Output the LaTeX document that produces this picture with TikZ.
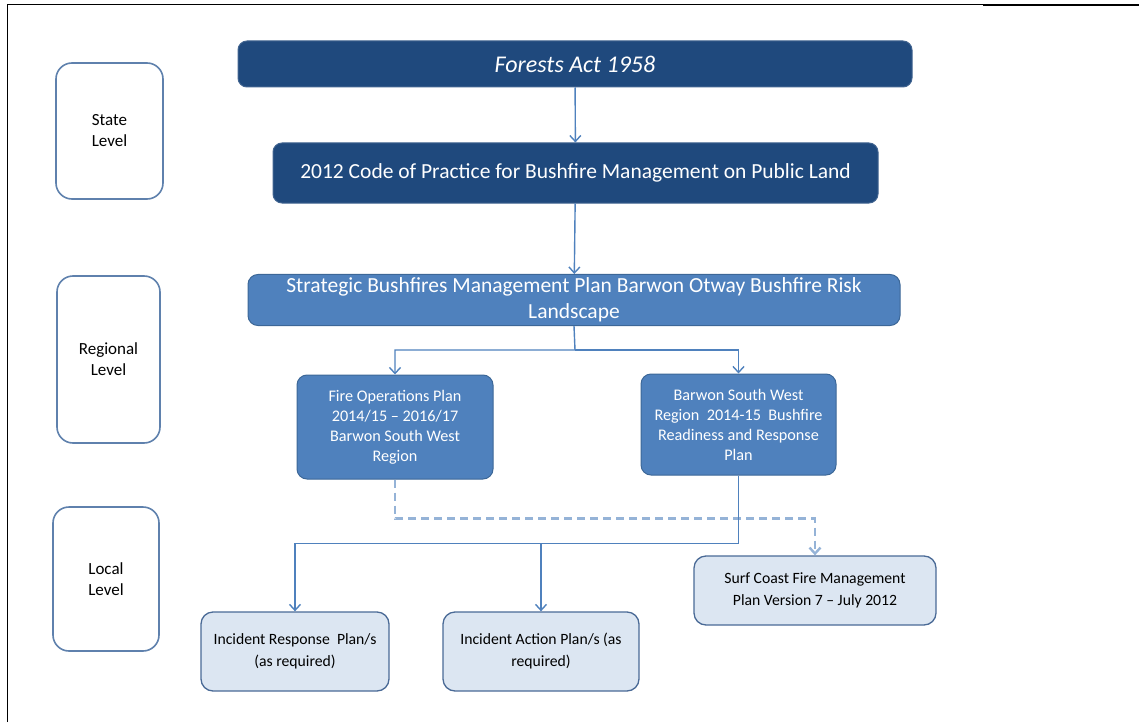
\documentclass[tikz,border=0pt]{standalone}
\usepackage{fontspec}
\setmainfont{Carlito}
\usetikzlibrary{arrows.meta}
\definecolor{actblue}{HTML}{1F497D}
\definecolor{planblue}{HTML}{4F81BD}
\definecolor{planedge}{HTML}{3C6797}
\definecolor{localfill}{HTML}{DCE6F2}
\definecolor{localedge}{HTML}{4A6A96}
\definecolor{leveledge}{HTML}{5F81AD}
\definecolor{dashblue}{HTML}{95B3D7}
\begin{document}
\begin{tikzpicture}[x=1pt,y=-1pt,
  level/.style={draw=leveledge, line width=1.6pt, fill=white, rounded corners=16pt, align=center, font=\fontsize{17}{21}\selectfont},
  actbox/.style={draw=actblue!85!white, line width=1pt, fill=actblue, text=white, rounded corners=9pt, align=center},
  planbox/.style={draw=planedge, line width=1pt, fill=planblue, text=white, rounded corners=10pt, align=center},
  localbox/.style={draw=localedge, line width=1.3pt, fill=localfill, rounded corners=12pt, align=center, font=\fontsize{15.7}{22}\selectfont},
  small/.style={font=\fontsize{16.2}{20}\selectfont},
  link/.style={draw=planblue, line width=1.4pt, -{Straight Barb[length=6pt, width=11pt]}}]
\useasboundingbox (0,0) rectangle (1139,722);
\draw[line width=1pt] (7,722) -- (7,5) -- (983,5);
\draw[line width=2.2pt] (983,5) -- (1139,5);
\node[level, minimum width=107pt, minimum height=136pt] (state) at (109.5,131) {State\\Level};
\node[level, minimum width=103pt, minimum height=167pt] (regional) at (108.5,359.5) {Regional\\Level};
\node[level, minimum width=106pt, minimum height=144pt] (local) at (106,579) {Local\\Level};
\node[actbox, minimum width=674pt, minimum height=46pt, font=\fontsize{24}{28}\selectfont\itshape] (act) at (575,64) {Forests Act 1958};
\node[actbox, minimum width=605pt, minimum height=60pt, font=\fontsize{21.5}{24}\selectfont] (code) at (575.5,173) {2012 Code of Practice for Bushfire Management on Public Land};
\node[planbox, minimum width=652pt, minimum height=50pt, font=\fontsize{21.5}{26}\selectfont] (strategic) at (574,300) {Strategic Bushfires Management Plan Barwon Otway Bushfire Risk\\Landscape};
\node[planbox, small, minimum width=196pt, minimum height=104pt] (fireops) at (395,427) {Fire Operations Plan\\2014/15 – 2016/17\\Barwon South West\\Region};
\node[planbox, small, minimum width=195pt, minimum height=101pt] (bsw) at (738.5,424.5) {Barwon South West\\Region\ \ 2014-15\ \ Bushfire\\Readiness and Response\\Plan};
\node[localbox, minimum width=242pt, minimum height=69pt] (surf) at (815,590.5) {Surf Coast Fire Management\\Plan Version 7 – July 2012};
\node[localbox, minimum width=188pt, minimum height=79pt] (irp) at (295,651.5) {Incident Response\ \ Plan/s\\(as required)};
\node[localbox, minimum width=196pt, minimum height=79pt] (iap) at (541,651.5) {Incident Action Plan/s (as\\required)};
\coordinate (split) at (575,350);
\coordinate (merge) at (541,543);
\draw[link] (act) -- (code);
\draw[link] (code) -- (strategic);
\draw[link] (strategic.south) -- (split) -| (fireops.north);
\draw[link] (split) -| (bsw.north);
\draw[dashblue, line width=2.4pt, dash pattern=on 8pt off 5pt, -{Straight Barb[length=6pt, width=11pt]}] (fireops.south) -- ++(0,39) -| (surf.north);
\draw[link] (bsw.south) -- ++(0,68) -| (irp.north);
\draw[link] (merge) -- (iap.north);
\end{tikzpicture}
\end{document}
